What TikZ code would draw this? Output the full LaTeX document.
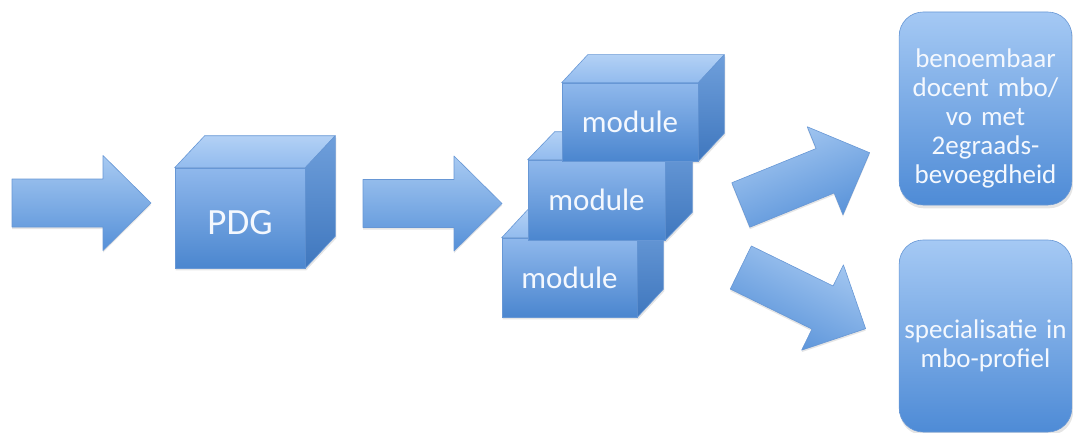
\documentclass[tikz,border=0pt]{standalone}
\usepackage{fontspec}
\setmainfont[WordSpace=0.8]{Carlito}
\usetikzlibrary{calc}

\definecolor{edgeblue}{HTML}{6797D5}
\definecolor{arrowtop}{HTML}{A8CAF2}
\definecolor{arrowbot}{HTML}{5590D8}
\definecolor{fronttop}{HTML}{8FB8EC}
\definecolor{frontbot}{HTML}{4B86CF}
\definecolor{lidtop}{HTML}{B3D1F5}
\definecolor{lidbot}{HTML}{92BBEE}
\definecolor{sidetop}{HTML}{6F9FDB}
\definecolor{sidebot}{HTML}{3F77BE}
\definecolor{boxtop}{HTML}{A5C9F4}
\definecolor{boxbot}{HTML}{4E8BD6}
\definecolor{labelwhite}{HTML}{F4F8FE}

\pgfdeclarelayer{shadowlayer}
\pgfsetlayers{shadowlayer,main}

\tikzset{
  shapeedge/.style={draw=edgeblue, line width=0.6pt, line join=round},
  shadowfill/.style={fill=black, opacity=0.10},
  blockarrow/.style={shapeedge, top color=arrowtop, bottom color=arrowbot},
  cubefront/.style={rectangle, shapeedge, top color=fronttop, bottom color=frontbot,
    inner sep=0pt, text=labelwhite},
  cubelid/.style={shapeedge, top color=lidtop, bottom color=lidbot},
  cubeside/.style={shapeedge, top color=sidetop, bottom color=sidebot},
  endbox/.style={rectangle, rounded corners=24pt, shapeedge, top color=boxtop,
    bottom color=boxbot, text=labelwhite, align=center, text width=166pt,
    minimum width=171pt, font=\fontsize{27}{29}\selectfont},
}

% pushes the first line of a box label down a little
\newcommand{\toplift}{\rule{0pt}{38pt}}

% block arrow: name, tail centre, direction angle
\newcommand{\blockarrow}[3]{%
  \coordinate (#1) at (#2);
  \begin{pgfonlayer}{shadowlayer}
    \fill[shadowfill]
      ($(#1)+(0,-2)+({#3+90}:24)$) -- ($(#1)+(0,-2)+(#3:91)+({#3+90}:24)$)
      -- ($(#1)+(0,-2)+(#3:91)+({#3+90}:47.5)$) -- ($(#1)+(0,-2)+(#3:139)$)
      -- ($(#1)+(0,-2)+(#3:91)+({#3-90}:47.5)$) -- ($(#1)+(0,-2)+(#3:91)+({#3-90}:24)$)
      -- ($(#1)+(0,-2)+({#3-90}:24)$) -- cycle;
  \end{pgfonlayer}
  \path[blockarrow, shading angle=#3]
    ($(#1)+({#3+90}:24)$) -- ($(#1)+(#3:91)+({#3+90}:24)$)
    -- ($(#1)+(#3:91)+({#3+90}:47.5)$) -- ($(#1)+(#3:139)$)
    -- ($(#1)+(#3:91)+({#3-90}:47.5)$) -- ($(#1)+(#3:91)+({#3-90}:24)$)
    -- ($(#1)+({#3-90}:24)$) -- cycle;
}

% cube: name, front centre, width, height, depth vector, font size, label
\newcommand{\drawcube}[7]{%
  \node[cubefront, minimum width=#3pt, minimum height=#4pt,
        font=\fontsize{#6}{#6}\selectfont] (#1) at (#2) {#7};
  \path[cubelid] (#1.north west) -- ++(#5) -- ($(#1.north east)+(#5)$)
    -- (#1.north east) -- cycle;
  \path[cubeside] (#1.north east) -- ++(#5) -- ($(#1.south east)+(#5)$)
    -- (#1.south east) -- cycle;
  \begin{pgfonlayer}{shadowlayer}
    \fill[shadowfill] ($(#1.south west)+(1,-2)$) -- ($(#1.north west)+(1,-2)$)
      -- ($(#1.north west)+(#5)+(1,-2)$) -- ($(#1.north east)+(#5)+(1,-2)$)
      -- ($(#1.south east)+(#5)+(1,-2)$) -- ($(#1.south east)+(1,-2)$) -- cycle;
  \end{pgfonlayer}
}

\begin{document}
\begin{tikzpicture}[x=1pt, y=1pt]
  \useasboundingbox (0,0) rectangle (1073,432);

  % input arrow and PDG block
  \blockarrow{inarrow}{12,229}{0}
  \drawcube{pdg}{240,214}{130}{100}{30,32}{37}{\rule{0pt}{34pt}PDG}

  % arrow towards the modules
  \blockarrow{midarrow}{363,228.5}{0}

  % stacked modules, lowest first
  \drawcube{modlow}{569.5,154.5}{135}{79}{26,28}{31}{module}
  \drawcube{modmid}{596.5,232}{137}{80}{27,28}{31}{module}
  \drawcube{modtop}{630,310}{136}{78}{26,28}{31}{module}

  % diverging arrows
  \blockarrow{uparrow}{740.8,227}{22.1}
  \blockarrow{downarrow}{740.8,164.5}{-26.1}

  % outcomes
  \node[endbox, minimum height=193pt] (teacher) at (985.5,323.5)
    {\toplift benoembaar\\docent mbo/\\vo met\\2egraads-\\bevoegdheid};
  \node[endbox, minimum height=192pt] (special) at (985.5,96)
    {\toplift specialisatie in\\mbo-profiel};
  \begin{pgfonlayer}{shadowlayer}
    \fill[shadowfill, rounded corners=24pt] ($(teacher.south west)+(1,-3)$)
      rectangle ($(teacher.north east)+(1,-3)$);
    \fill[shadowfill, rounded corners=24pt] ($(special.south west)+(1,-3)$)
      rectangle ($(special.north east)+(1,-3)$);
  \end{pgfonlayer}
\end{tikzpicture}
\end{document}
